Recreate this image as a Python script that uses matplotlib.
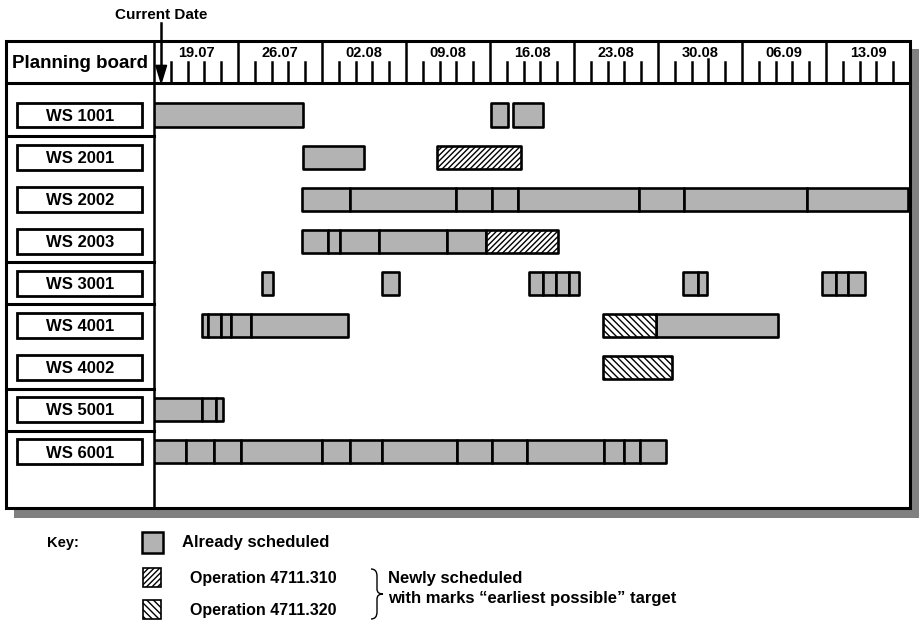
import numpy as np
import matplotlib
matplotlib.use("Agg")
import matplotlib.pyplot as plt
from matplotlib.patches import Rectangle, Polygon, PathPatch
from matplotlib.path import Path
from matplotlib import transforms

plt.rcParams['font.family'] = ['Liberation Sans', 'DejaVu Sans']
plt.rcParams['font.weight'] = 'bold'
plt.rcParams['hatch.linewidth'] = 1.0

# ---------------- data ----------------
workstations = ['WS 1001', 'WS 2001', 'WS 2002', 'WS 2003', 'WS 3001',
                'WS 4001', 'WS 4002', 'WS 5001', 'WS 6001']
groups = [1, 3, 1, 2, 1, 1]          # rows per workstation group

week_labels = ['19.07', '26.07', '02.08', '09.08', '16.08',
               '23.08', '30.08', '06.09', '13.09']
days_per_week = 7
tick_fracs = [0.2, 0.4, 0.6, 0.8]
tall_tick = (6, 0.6)                  # week index, fraction
current_date = 0.6                    # days after 19.07

# already scheduled: chains of consecutive operations (boundaries in days after 19.07)
ws1001 = [[0, 12.4], [28.1, 29.5], [29.9, 32.4]]
ws2001 = [[12.4, 17.5]]
ws2002 = [[12.3, 16.3, 25.2, 28.2, 30.3, 40.4, 44.2, 54.4, 62.8]]
ws2003 = [[12.3, 14.5, 15.5, 18.75, 24.4, 27.7]]
ws3001 = [[9.0, 9.9], [19.0, 20.4], [31.25, 32.4, 33.5, 34.6, 35.4],
          [44.1, 45.3, 46.1], [55.7, 56.8, 57.8, 59.25]]
ws4001 = [[4.0, 4.5, 5.6, 6.4, 8.1, 16.2], [41.8, 52.0]]
ws4002 = []
ws5001 = [[0, 4.0, 5.2, 5.75]]
ws6001 = [[0, 2.67, 5.0, 7.25, 14.0, 16.3, 19.0, 25.25, 28.2, 31.1,
           37.5, 39.2, 40.5, 42.7]]
scheduled = [ws1001, ws2001, ws2002, ws2003, ws3001, ws4001, ws4002, ws5001, ws6001]

# newly scheduled operations: (row index, start, end)
op310_rows = [1, 3]
op310_start = [23.6, 27.7]
op310_end = [30.6, 33.7]
op320_rows = [5, 6]
op320_start = [37.4, 37.4]
op320_end = [41.8, 43.2]

# ---------------- figure ----------------
W, H = 920, 628
fig = plt.figure(figsize=(W / 100, H / 100), dpi=100)

deco = fig.add_axes([0, 0, 1, 1])
deco.set_xlim(0, W)
deco.set_ylim(H, 0)
deco.axis('off')

L, R, T, HB, B, C = 6, 910, 41, 83, 508, 154   # frame geometry (pixels)

# shadow + white board
deco.add_patch(Rectangle((14, 49), 906, 469, facecolor='#808080', edgecolor='none', zorder=0))
deco.add_patch(Rectangle((L, T), R - L, B - T, facecolor='white', edgecolor='black', lw=2.2, zorder=1))
deco.plot([L, R], [HB, HB], color='black', lw=2.2, zorder=3)
deco.plot([C, C], [T, B], color='black', lw=1.8, zorder=3)
deco.text(12, 64, 'Planning board', fontsize=13.5, ha='left', va='center', zorder=4)

n_weeks = len(week_labels)
xmax = n_weeks * days_per_week

# gantt area
row_top_px, row_pitch = 115, 42.1
gantt = fig.add_axes([C / W, (H - B) / H, (R - C) / W, (B - HB) / H])
gantt.set_xlim(0, xmax)
gantt.set_ylim((B - row_top_px) / row_pitch, (HB - row_top_px) / row_pitch)
gantt.axis('off')
gantt.patch.set_alpha(0)

bar_h = 0.55
gray = '#b3b3b3'
for r, chains in enumerate(scheduled):
    for chain in chains:
        b = np.array(chain)
        bars = gantt.barh(r, np.diff(b), left=b[:-1], height=bar_h, color=gray,
                          edgecolor='black', linewidth=1.9)
        for p in bars:
            p.set_joinstyle('round')

b310 = gantt.barh(op310_rows, np.array(op310_end) - np.array(op310_start), left=op310_start,
                  height=bar_h, color='white', edgecolor='black', linewidth=1.9, hatch='//////')
b320 = gantt.barh(op320_rows, np.array(op320_end) - np.array(op320_start), left=op320_start,
                  height=bar_h, color='white', edgecolor='black', linewidth=1.9, hatch='\\\\\\\\\\')
for p in list(b310) + list(b320):
    p.set_joinstyle('round')

# row labels and group separators (x in pixels, y in row units)
blend = transforms.blended_transform_factory(deco.transData, gantt.transData)
for r, name in enumerate(workstations):
    deco.add_patch(Rectangle((17, r - 0.295), 125, 0.59, transform=blend, facecolor='white',
                             edgecolor='black', lw=2.0, zorder=4))
    deco.text(80, r + 0.03, name, transform=blend, fontsize=12, ha='center', va='center', zorder=5)
cum = np.cumsum(groups)[:-1]
for c in cum:
    deco.plot([L, C], [c - 0.5, c - 0.5], transform=blend, color='black', lw=2.2, zorder=3)

# header time scale
header = fig.add_axes([C / W, (H - HB) / H, (R - C) / W, (HB - T) / H])
header.set_xlim(0, xmax)
header.set_ylim(0, 1)
header.axis('off')
header.patch.set_alpha(0)
for w, lab in enumerate(week_labels):
    x0 = w * days_per_week
    if w > 0:
        header.plot([x0, x0], [0, 1], color='black', lw=1.8)
    header.text(x0 + days_per_week / 2, 0.72, lab, fontsize=10.5, ha='center', va='center')
    for f in tick_fracs:
        top = 0.56 if (w, f) == tall_tick else 0.49
        header.plot([x0 + f * days_per_week] * 2, [0, top], color='black', lw=1.8)

# current date marker
header.plot([current_date, current_date], [0.3, 1.42], color='black', lw=1.8, clip_on=False)
header.add_patch(Polygon([[current_date - 0.45, 0.42], [current_date + 0.45, 0.42],
                          [current_date, 0.0]], closed=True, facecolor='black',
                         edgecolor='black', clip_on=False))
header.text(current_date, 1.62, 'Current Date', fontsize=11, ha='center', va='center',
            clip_on=False)

# key
deco.text(47, 543, 'Key:', fontsize=10.5, ha='left', va='center')
deco.add_patch(Rectangle((142, 532), 21, 21, facecolor=gray, edgecolor='black', lw=1.8))
deco.text(182, 543, 'Already scheduled', fontsize=12, ha='left', va='center')
deco.add_patch(Rectangle((143, 568), 18, 19, facecolor='white', edgecolor='black', lw=1.2,
                         hatch='//////'))
deco.text(190, 578, 'Operation 4711.310', fontsize=11.5, ha='left', va='center')
deco.add_patch(Rectangle((143, 600), 18, 19, facecolor='white', edgecolor='black', lw=1.2,
                         hatch='\\\\\\\\\\'))
deco.text(190, 611, 'Operation 4711.320', fontsize=11.5, ha='left', va='center')

verts = [(371, 569), (377, 569), (377, 576), (377, 589), (377, 594), (383, 594),
         (377, 594), (377, 599), (377, 612), (377, 619), (371, 619)]
codes = [Path.MOVETO, Path.CURVE3, Path.CURVE3, Path.LINETO, Path.CURVE3, Path.CURVE3,
         Path.CURVE3, Path.CURVE3, Path.LINETO, Path.CURVE3, Path.CURVE3]
deco.add_patch(PathPatch(Path(verts, codes), facecolor='none', edgecolor='black', lw=1.0))
deco.text(388, 578, 'Newly scheduled', fontsize=12, ha='left', va='center')
deco.text(388, 598, 'with marks \u201cearliest possible\u201d target', fontsize=12,
          ha='left', va='center')

fig.savefig('out.png', dpi=100)
